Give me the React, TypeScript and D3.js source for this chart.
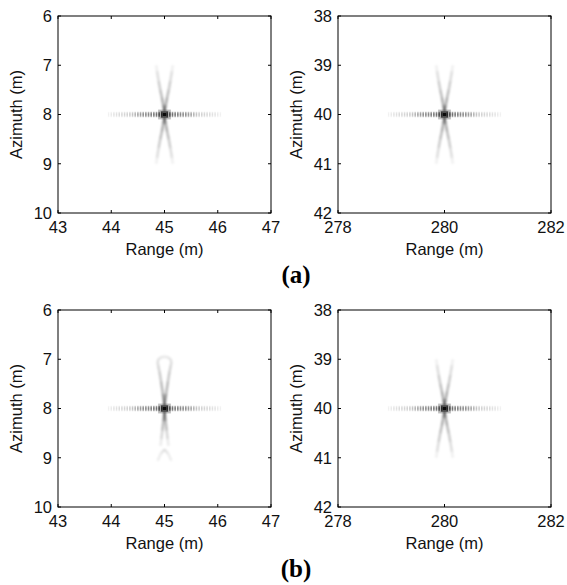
import React from "react";
import * as d3 from "d3";

// ---- axes data ----
const xDomainLeft = [43, 47];
const xDomainRight = [278, 282];
const yDomainLeft = [6, 10];
const yDomainRight = [38, 42];
const xTicksLeft = [43, 44, 45, 46, 47];
const xTicksRight = [278, 280, 282];
const yTicksLeft = [6, 7, 8, 9, 10];
const yTicksRight = [38, 39, 40, 41, 42];
const targetRange = [45, 280];
const targetAzimuth = [8, 40];
const captions = ["(a)", "(b)"];

// ---- range sidelobe streak (offset in m from target, relative intensity) ----
const lobeOffset = [0.05, 0.1, 0.15, 0.2, 0.25, 0.3, 0.35, 0.4, 0.45, 0.5, 0.55, 0.6, 0.65, 0.7, 0.75, 0.8, 0.85, 0.9, 0.95, 1.0, 1.05];
const lobeLevel = [0.7, 0.6, 0.55, 0.5, 0.47, 0.44, 0.42, 0.4, 0.36, 0.32, 0.26, 0.2, 0.17, 0.15, 0.14, 0.13, 0.12, 0.1, 0.09, 0.07, 0.05];

// ---- azimuth "X" arms (range offset m, azimuth offset m, intensity) ----
const armRange = [0.0, 0.025, 0.05, 0.08, 0.11, 0.14, 0.155];
const armAz = [0.06, 0.2, 0.35, 0.5, 0.68, 0.88, 1.0];
const armLevel = [0.5, 0.38, 0.3, 0.24, 0.18, 0.1, 0.03];

// ---- distorted response of panel (b) left ----
const loopRange = [0.0, 0.03, 0.065, 0.095, 0.12, 0.13, 0.115, 0.065, 0.0];
const loopAz = [0.06, 0.3, 0.55, 0.75, 0.88, 0.95, 1.0, 1.04, 1.05];
const loopLevel = [0.5, 0.33, 0.25, 0.2, 0.16, 0.14, 0.12, 0.1, 0.09];
const tailRange = [0.0, 0.02, 0.04, 0.06, 0.075];
const tailAz = [0.06, 0.25, 0.45, 0.62, 0.76];
const tailLevel = [0.5, 0.34, 0.22, 0.12, 0.05];
const arcRange = [-0.13, -0.07, 0.0, 0.07, 0.13];
const arcAz = [1.06, 0.92, 0.83, 0.92, 1.06];
const arcLevel = [0.06, 0.1, 0.12, 0.1, 0.06];

const FONT = "'Liberation Sans', Arial, sans-serif";
const W = 213;
const H = 197;

type Pt = { dx: number; dz: number; v: number };

function zipPts(r: number[], a: number[], l: number[], sx: number, sz: number): Pt[] {
  return r.map((d, i) => ({ dx: d * sx, dz: a[i] * sz, v: l[i] }));
}

function Panel({ x0, y0, col, distorted, id }: { x0: number; y0: number; col: number; distorted: boolean; id: string }) {
  const xDom = col === 0 ? xDomainLeft : xDomainRight;
  const yDom = col === 0 ? yDomainLeft : yDomainRight;
  const xt = col === 0 ? xTicksLeft : xTicksRight;
  const yt = col === 0 ? yTicksLeft : yTicksRight;
  const x = d3.scaleLinear().domain(xDom).range([x0, x0 + W]);
  const y = d3.scaleLinear().domain(yDom).range([y0, y0 + H]);
  const r0 = targetRange[col];
  const a0 = targetAzimuth[col];

  const polylines: Pt[][] = [];
  if (!distorted) {
    for (const sx of [-1, 1]) for (const sz of [-1, 1]) polylines.push(zipPts(armRange, armAz, armLevel, sx, sz));
  } else {
    for (const sx of [-1, 1]) {
      polylines.push(zipPts(loopRange, loopAz, loopLevel, sx, -1));
      polylines.push(zipPts(tailRange, tailAz, tailLevel, sx, 1));
    }
    polylines.push(zipPts(arcRange, arcAz, arcLevel, 1, 1));
  }

  const segs: { x1: number; y1: number; x2: number; y2: number; v: number }[] = [];
  polylines.forEach((pl) => {
    for (let i = 0; i < pl.length - 1; i++) {
      segs.push({
        x1: x(r0 + pl[i].dx),
        y1: y(a0 + pl[i].dz),
        x2: x(r0 + pl[i + 1].dx),
        y2: y(a0 + pl[i + 1].dz),
        v: (pl[i].v + pl[i + 1].v) / 2,
      });
    }
  });

  const bw = x(r0 + 0.03) - x(r0);
  const box = (dr: number, da: number) => ({
    x: x(r0 - dr),
    y: y(a0 - da),
    width: x(r0 + dr) - x(r0 - dr),
    height: y(a0 + da) - y(a0 - da),
  });

  return (
    <g>
      <defs>
        <clipPath id={"clip" + id}>
          <rect x={x0} y={y0} width={W} height={H} />
        </clipPath>
      </defs>
      <rect x={x0} y={y0} width={W} height={H} fill="#fff" />
      <g clipPath={`url(#clip${id})`}>
        <g filter="url(#softArm)">
          {segs.map((s, i) => (
            <line key={i} x1={s.x1} y1={s.y1} x2={s.x2} y2={s.y2} stroke="#000" strokeOpacity={s.v} strokeWidth={2.4} />
          ))}
        </g>
        <g filter="url(#softLobe)">
          {[-1, 1].map((sx) =>
            lobeOffset.map((o, i) => (
              <g key={sx + "_" + i}>
                <rect
                  x={x(r0 + sx * o) - bw / 2}
                  y={y(a0 - 0.055)}
                  width={bw}
                  height={y(a0 + 0.055) - y(a0 - 0.055)}
                  fill="#000"
                  fillOpacity={lobeLevel[i] * 0.7}
                />
                <rect
                  x={x(r0 + sx * o) - bw / 2}
                  y={y(a0 - 0.025)}
                  width={bw}
                  height={y(a0 + 0.025) - y(a0 - 0.025)}
                  fill="#000"
                  fillOpacity={lobeLevel[i] * 0.55}
                />
              </g>
            ))
          )}
          <rect {...box(0.12, 0.1)} fill="#000" fillOpacity={0.25} />
          <rect {...box(0.07, 0.07)} fill="#000" fillOpacity={0.45} />
          <rect {...box(0.03, 0.035)} fill="#000" fillOpacity={0.9} />
        </g>
      </g>
      {/* ticks */}
      {xt.map((t) => (
        <g key={"xt" + t}>
          <line x1={x(t)} x2={x(t)} y1={y0 + H} y2={y0 + H - 3} stroke="#000" />
          <line x1={x(t)} x2={x(t)} y1={y0} y2={y0 + 3} stroke="#000" />
          <text x={x(t)} y={y0 + H + 20} textAnchor="middle" fontSize={16.5} fontFamily={FONT} fill="#111">
            {t}
          </text>
        </g>
      ))}
      {yt.map((t) => (
        <g key={"yt" + t}>
          <line x1={x0} x2={x0 + 3} y1={y(t)} y2={y(t)} stroke="#000" />
          <line x1={x0 + W} x2={x0 + W - 3} y1={y(t)} y2={y(t)} stroke="#000" />
          <text x={x0 - 6} y={y(t)} dy="0.36em" textAnchor="end" fontSize={16.5} fontFamily={FONT} fill="#111">
            {t}
          </text>
        </g>
      ))}
      <rect x={x0} y={y0} width={W} height={H} fill="none" stroke="#000" strokeWidth={1} />
      <text x={x0 + W / 2} y={y0 + H + 42} textAnchor="middle" fontSize={16.5} fontFamily={FONT} fill="#111">
        Range (m)
      </text>
      <text
        transform={`translate(${x0 - 36},${y0 + H / 2}) rotate(-90)`}
        textAnchor="middle"
        fontSize={16.5}
        fontFamily={FONT}
        fill="#111"
      >
        Azimuth (m)
      </text>
    </g>
  );
}

export default function App() {
  const xs = [58, 338];
  const ys = [16, 310];
  return (
    <svg width={567} height={585} style={{ display: "block", position: "absolute", left: 0, top: 0 }}>
      <defs>
        <filter id="softArm" x="-20%" y="-20%" width="140%" height="140%">
          <feGaussianBlur stdDeviation={0.8} />
        </filter>
        <filter id="softLobe" x="-20%" y="-50%" width="140%" height="200%">
          <feGaussianBlur stdDeviation={0.45} />
        </filter>
      </defs>
      <rect width={567} height={585} fill="#fff" />
      {ys.map((y0, row) =>
        xs.map((x0, col) => (
          <Panel key={row + "-" + col} id={row + "_" + col} x0={x0} y0={y0} col={col} distorted={row === 1 && col === 0} />
        ))
      )}
      {captions.map((c, i) => (
        <text
          key={c}
          x={296}
          y={ys[i] + H + 70}
          textAnchor="middle"
          fontSize={25}
          fontWeight="bold"
          fontFamily="'Liberation Serif', 'Times New Roman', serif"
          fill="#000"
        >
          {c}
        </text>
      ))}
    </svg>
  );
}
